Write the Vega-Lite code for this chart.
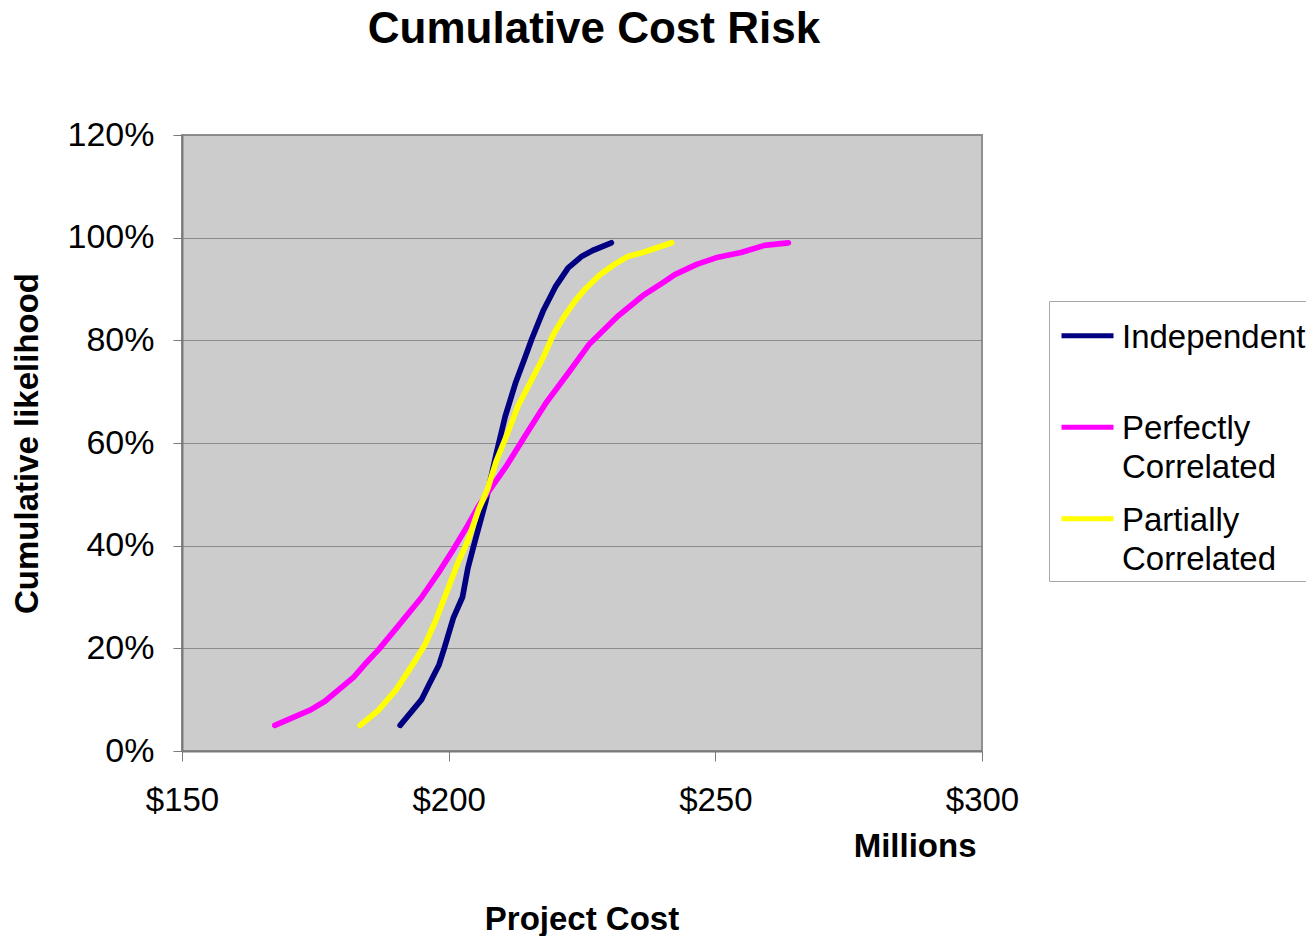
{
  "$schema": "https://vega.github.io/schema/vega-lite/v6.json",
  "background": "white",
  "padding": {"left": 10, "top": 8, "right": 0, "bottom": 0},
  "title": {
    "text": "Cumulative Cost Risk",
    "fontSize": 44,
    "fontWeight": "bold",
    "color": "black",
    "anchor": "middle",
    "frame": "group",
    "dx": 12,
    "offset": 65
  },
  "config": {
    "font": "Liberation Sans, Arial, sans-serif",
    "view": {"fill": "#cccccc", "stroke": "#8f8f8f", "strokeWidth": 2},
    "axis": {
      "labelColor": "black",
      "titleColor": "black",
      "labelFontSize": 33,
      "titleFontSize": 33,
      "titleFontWeight": "bold",
      "domainColor": "#7a7a7a",
      "domainWidth": 2,
      "tickColor": "#7a7a7a",
      "tickWidth": 1,
      "tickSize": 9,
      "gridColor": "#8a8a8a",
      "gridWidth": 1
    },
    "style": {"guide-label": {"lineHeight": 39}}
  },
  "vconcat": [
    {
      "width": 800,
      "height": 616,
      "title": {
        "text": "Project Cost",
        "orient": "bottom",
        "fontSize": 33,
        "fontWeight": "bold",
        "color": "black",
        "anchor": "middle",
        "frame": "group",
        "offset": 41
      },
      "data": {
        "values": [
          {"series": "Independent", "cost": 190.9, "p": 0.05},
          {"series": "Independent", "cost": 194.9, "p": 0.10},
          {"series": "Independent", "cost": 196.2, "p": 0.127},
          {"series": "Independent", "cost": 198.2, "p": 0.168},
          {"series": "Independent", "cost": 199.2, "p": 0.201},
          {"series": "Independent", "cost": 200.9, "p": 0.26},
          {"series": "Independent", "cost": 202.6, "p": 0.30},
          {"series": "Independent", "cost": 203.6, "p": 0.356},
          {"series": "Independent", "cost": 204.6, "p": 0.396},
          {"series": "Independent", "cost": 206.9, "p": 0.484},
          {"series": "Independent", "cost": 208.9, "p": 0.578},
          {"series": "Independent", "cost": 210.6, "p": 0.652},
          {"series": "Independent", "cost": 212.6, "p": 0.719},
          {"series": "Independent", "cost": 214.3, "p": 0.766},
          {"series": "Independent", "cost": 215.6, "p": 0.803},
          {"series": "Independent", "cost": 217.7, "p": 0.857},
          {"series": "Independent", "cost": 220.0, "p": 0.904},
          {"series": "Independent", "cost": 222.4, "p": 0.941},
          {"series": "Independent", "cost": 225.0, "p": 0.964},
          {"series": "Independent", "cost": 227.0, "p": 0.975},
          {"series": "Independent", "cost": 230.5, "p": 0.99},
          {"series": "Perfectly Correlated", "cost": 167.4, "p": 0.05},
          {"series": "Perfectly Correlated", "cost": 174.1, "p": 0.08},
          {"series": "Perfectly Correlated", "cost": 176.8, "p": 0.097},
          {"series": "Perfectly Correlated", "cost": 182.2, "p": 0.144},
          {"series": "Perfectly Correlated", "cost": 184.2, "p": 0.168},
          {"series": "Perfectly Correlated", "cost": 186.9, "p": 0.198},
          {"series": "Perfectly Correlated", "cost": 190.9, "p": 0.248},
          {"series": "Perfectly Correlated", "cost": 194.9, "p": 0.299},
          {"series": "Perfectly Correlated", "cost": 198.2, "p": 0.349},
          {"series": "Perfectly Correlated", "cost": 200.9, "p": 0.393},
          {"series": "Perfectly Correlated", "cost": 203.6, "p": 0.44},
          {"series": "Perfectly Correlated", "cost": 205.6, "p": 0.477},
          {"series": "Perfectly Correlated", "cost": 207.6, "p": 0.507},
          {"series": "Perfectly Correlated", "cost": 211.0, "p": 0.558},
          {"series": "Perfectly Correlated", "cost": 215.0, "p": 0.625},
          {"series": "Perfectly Correlated", "cost": 218.3, "p": 0.679},
          {"series": "Perfectly Correlated", "cost": 222.4, "p": 0.736},
          {"series": "Perfectly Correlated", "cost": 226.4, "p": 0.793},
          {"series": "Perfectly Correlated", "cost": 231.7, "p": 0.847},
          {"series": "Perfectly Correlated", "cost": 236.4, "p": 0.887},
          {"series": "Perfectly Correlated", "cost": 240.4, "p": 0.914},
          {"series": "Perfectly Correlated", "cost": 242.4, "p": 0.928},
          {"series": "Perfectly Correlated", "cost": 246.5, "p": 0.948},
          {"series": "Perfectly Correlated", "cost": 250.5, "p": 0.962},
          {"series": "Perfectly Correlated", "cost": 254.8, "p": 0.971},
          {"series": "Perfectly Correlated", "cost": 259.2, "p": 0.985},
          {"series": "Perfectly Correlated", "cost": 263.7, "p": 0.99},
          {"series": "Partially Correlated", "cost": 183.4, "p": 0.05},
          {"series": "Partially Correlated", "cost": 186.9, "p": 0.08},
          {"series": "Partially Correlated", "cost": 190.2, "p": 0.12},
          {"series": "Partially Correlated", "cost": 193.6, "p": 0.174},
          {"series": "Partially Correlated", "cost": 195.6, "p": 0.208},
          {"series": "Partially Correlated", "cost": 197.6, "p": 0.255},
          {"series": "Partially Correlated", "cost": 199.6, "p": 0.309},
          {"series": "Partially Correlated", "cost": 201.6, "p": 0.363},
          {"series": "Partially Correlated", "cost": 203.6, "p": 0.41},
          {"series": "Partially Correlated", "cost": 205.6, "p": 0.47},
          {"series": "Partially Correlated", "cost": 207.3, "p": 0.51},
          {"series": "Partially Correlated", "cost": 208.9, "p": 0.564},
          {"series": "Partially Correlated", "cost": 211.0, "p": 0.618},
          {"series": "Partially Correlated", "cost": 213.0, "p": 0.672},
          {"series": "Partially Correlated", "cost": 215.0, "p": 0.712},
          {"series": "Partially Correlated", "cost": 217.7, "p": 0.766},
          {"series": "Partially Correlated", "cost": 219.7, "p": 0.813},
          {"series": "Partially Correlated", "cost": 221.7, "p": 0.847},
          {"series": "Partially Correlated", "cost": 223.7, "p": 0.877},
          {"series": "Partially Correlated", "cost": 225.7, "p": 0.901},
          {"series": "Partially Correlated", "cost": 228.4, "p": 0.928},
          {"series": "Partially Correlated", "cost": 231.1, "p": 0.948},
          {"series": "Partially Correlated", "cost": 233.7, "p": 0.964},
          {"series": "Partially Correlated", "cost": 236.4, "p": 0.971},
          {"series": "Partially Correlated", "cost": 241.8, "p": 0.99}
        ]
      },
      "mark": {"type": "line", "strokeWidth": 5.7, "strokeCap": "round", "strokeJoin": "round"},
      "encoding": {
        "x": {
          "field": "cost",
          "type": "quantitative",
          "scale": {"domain": [150, 300], "nice": false, "zero": false},
          "axis": {
            "values": [150, 200, 250, 300],
            "format": "$.0f",
            "grid": false,
            "title": "Millions",
            "titleAnchor": "end",
            "titleX": 794,
            "titlePadding": 13,
            "tickSize": 10,
            "labelPadding": 23,
            "labelFlush": false
          }
        },
        "y": {
          "field": "p",
          "type": "quantitative",
          "scale": {"domain": [0, 1.2], "nice": false},
          "axis": {
            "values": [0, 0.2, 0.4, 0.6, 0.8, 1.0, 1.2],
            "format": ".0%",
            "grid": true,
            "title": "Cumulative likelihood",
            "labelFontSize": 34,
            "titlePadding": 23,
            "labelPadding": 19
          }
        },
        "color": {
          "field": "series",
          "type": "nominal",
          "scale": {
            "domain": ["Independent", "Perfectly Correlated", "Partially Correlated"],
            "range": ["#000080", "#ff00ff", "#ffff00"]
          },
          "legend": {
            "title": null,
            "orient": "none",
            "legendX": 867,
            "legendY": 166,
            "padding": 4,
            "fillColor": "white",
            "strokeColor": "#a8a8a8",
            "symbolType": "M-5.2,2.84L5.2,2.84",
            "symbolSize": 100,
            "symbolStrokeWidth": 5,
            "symbolFillColor": "transparent",
            "symbolOffset": 18,
            "labelFontSize": 33,
            "labelColor": "black",
            "labelBaseline": "top",
            "labelOffset": 18,
            "labelLimit": 0,
            "labelExpr": "datum.label == 'Independent' ? datum.label : split(datum.label, ' ')",
            "gridAlign": "all",
            "rowPadding": 2.5
          }
        }
      }
    }
  ]
}
